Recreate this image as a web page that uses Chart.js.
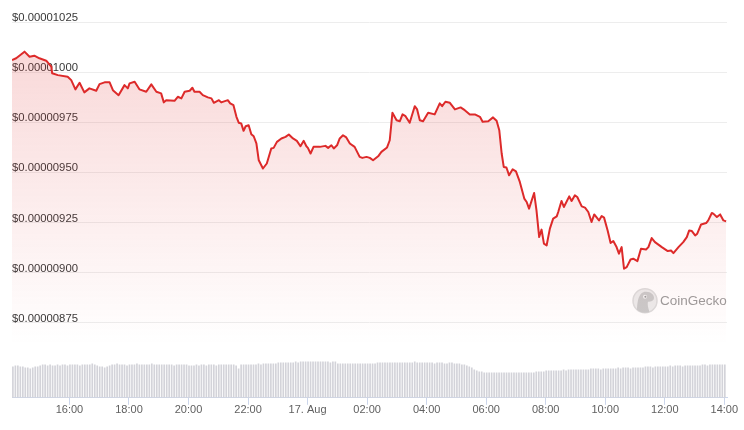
<!DOCTYPE html>
<html>
<head>
<meta charset="utf-8">
<script src="https://cdn.jsdelivr.net/npm/chart.js@4.4.1/dist/chart.umd.min.js"></script>
<style>
  html, body { margin: 0; padding: 0; background: #fff; }
  #wrap { width: 744px; height: 430px; }
</style>
</head>
<body>
<div id="wrap"><canvas id="priceChart" width="744" height="430"></canvas></div>
<script>
// time in hours counted from 16 Aug 00:00 (24 = 17 Aug 00:00)
const priceHours = [
  14.07, 14.21, 14.49, 14.66, 14.82, 14.99, 15.22, 15.39, 15.42, 15.61,
  15.94, 16.06, 16.20, 16.34, 16.50, 16.67, 16.90, 17.01, 17.18, 17.35,
  17.46, 17.65, 17.85, 17.96, 18.02, 18.19, 18.35, 18.58, 18.75, 18.92,
  19.08, 19.17, 19.25, 19.53, 19.64, 19.76, 19.87, 20.04, 20.13, 20.20,
  20.37, 20.48, 20.65, 20.77, 20.85, 21.02, 21.10, 21.32, 21.40, 21.51,
  21.61, 21.69, 21.77, 21.85, 21.92, 22.02, 22.11, 22.19, 22.28, 22.36,
  22.50, 22.63, 22.78, 22.86, 22.97, 23.12, 23.26, 23.37, 23.51, 23.64,
  23.76, 23.87, 23.96, 24.01, 24.10, 24.20, 24.41, 24.60, 24.69, 24.80,
  24.88, 24.99, 25.08, 25.19, 25.30, 25.42, 25.58, 25.75, 25.84, 25.98,
  26.09, 26.20, 26.37, 26.48, 26.67, 26.76, 26.85, 26.99, 27.10, 27.19,
  27.29, 27.43, 27.60, 27.68, 27.77, 27.88, 28.05, 28.27, 28.44, 28.52,
  28.63, 28.78, 28.95, 29.14, 29.28, 29.45, 29.62, 29.79, 29.88, 30.07,
  30.23, 30.35, 30.44, 30.52, 30.59, 30.68, 30.77, 30.89, 31.00, 31.13,
  31.28, 31.36, 31.44, 31.61, 31.69, 31.78, 31.86, 31.94, 32.03, 32.14,
  32.25, 32.37, 32.42, 32.53, 32.61, 32.79, 32.87, 32.98, 33.06, 33.21,
  33.32, 33.43, 33.54, 33.63, 33.79, 33.88, 33.96, 34.08, 34.18, 34.27,
  34.38, 34.46, 34.55, 34.63, 34.72, 34.85, 34.94, 35.08, 35.20, 35.37,
  35.45, 35.56, 35.67, 35.90, 36.10, 36.21, 36.29, 36.46, 36.62, 36.74,
  36.82, 36.91, 37.02, 37.09, 37.22, 37.39, 37.46, 37.58, 37.63, 37.75,
  37.86, 37.97, 38.06
];

// price in units of 1e-8 USD (1000 = $0.00001000)
const prices = [
  1006.0, 1006.9, 1010.2, 1007.7, 1008.2, 1006.9, 1005.7, 1002.7, 999.4, 998.5,
  997.7, 996.0, 991.4, 994.7, 989.9, 991.9, 990.7, 994.0, 994.9, 994.9,
  991.0, 988.5, 993.5, 991.9, 994.4, 995.2, 991.4, 990.2, 993.9, 990.2,
  989.4, 984.9, 986.0, 985.7, 987.7, 986.9, 990.2, 990.7, 992.2, 990.2,
  990.2, 988.5, 987.4, 986.9, 984.7, 986.0, 984.9, 986.0, 984.4, 983.5,
  977.7, 974.7, 974.4, 970.7, 973.0, 973.5, 969.0, 968.0, 964.4, 956.0,
  951.9, 954.4, 961.9, 962.2, 965.2, 966.9, 967.7, 968.9, 966.9, 965.7,
  963.0, 965.7, 963.0, 962.2, 959.4, 962.7, 962.7, 963.2, 962.2, 963.5,
  961.9, 963.5, 966.9, 968.5, 967.4, 964.4, 962.7, 957.7, 957.2, 957.7,
  957.2, 956.0, 958.0, 960.2, 962.4, 966.0, 979.7, 976.0, 975.5, 978.9,
  978.0, 974.7, 983.0, 981.4, 976.0, 975.5, 979.7, 978.9, 984.4, 983.0,
  985.2, 984.7, 981.4, 982.4, 981.0, 978.9, 978.9, 977.7, 975.2, 975.5,
  977.4, 975.7, 971.0, 959.4, 952.7, 952.4, 948.5, 951.5, 950.5, 945.2,
  936.9, 935.2, 931.9, 939.7, 931.0, 917.7, 921.4, 914.4, 913.5, 921.9,
  926.9, 928.0, 930.2, 935.7, 932.7, 938.0, 935.7, 938.5, 937.7, 933.0,
  932.4, 930.2, 925.2, 929.0, 926.0, 928.2, 927.4, 921.0, 914.7, 915.7,
  912.7, 909.4, 912.7, 901.9, 902.7, 906.5, 906.9, 905.7, 911.9, 911.5,
  912.7, 917.2, 915.2, 912.7, 910.7, 911.0, 909.7, 912.7, 915.2, 917.7,
  921.0, 920.7, 918.5, 919.4, 924.0, 924.7, 926.0, 929.7, 929.4, 927.7,
  929.0, 926.0, 925.5
];

// 5-minute volume bars, first one at 14:06 on 16 Aug (relative units)
const volStartHour = 14.1;
const volumes = [
  31, 32, 32, 31, 31, 30, 30, 29, 30, 31, 31, 32,
  33, 33, 32, 33, 32, 32, 33, 32, 33, 33, 32, 33,
  33, 33, 33, 32, 33, 33, 33, 33, 34, 33, 32, 31,
  31, 30, 31, 32, 33, 33, 34, 33, 33, 33, 32, 33,
  33, 33, 34, 33, 33, 33, 33, 33, 34, 33, 33, 33,
  33, 33, 33, 33, 33, 32, 33, 33, 33, 33, 33, 32,
  32, 32, 33, 32, 33, 33, 32, 33, 33, 33, 32, 33,
  33, 33, 33, 33, 33, 33, 32, 29, 33, 33, 33, 33,
  33, 33, 33, 34, 33, 34, 34, 34, 34, 34, 34, 35,
  35, 35, 35, 35, 35, 35, 36, 35, 36, 36, 36, 36,
  36, 36, 36, 36, 36, 36, 36, 36, 35, 36, 36, 34,
  34, 34, 34, 34, 34, 34, 34, 34, 34, 34, 34, 34,
  34, 34, 34, 35, 35, 35, 35, 35, 35, 35, 35, 35,
  35, 35, 35, 35, 35, 35, 36, 35, 35, 35, 35, 35,
  35, 35, 34, 35, 35, 35, 34, 34, 35, 35, 34, 34,
  34, 33, 33, 32, 31, 30, 28, 27, 26, 26, 25, 25,
  25, 25, 25, 25, 25, 25, 25, 25, 25, 25, 25, 25,
  25, 25, 25, 25, 25, 25, 25, 26, 26, 26, 26, 27,
  27, 27, 27, 27, 27, 27, 28, 27, 28, 28, 28, 28,
  28, 28, 28, 28, 28, 29, 29, 29, 29, 28, 29, 29,
  29, 29, 29, 29, 30, 29, 30, 30, 30, 29, 30, 30,
  30, 30, 30, 31, 31, 31, 30, 31, 31, 31, 31, 31,
  31, 32, 31, 32, 32, 32, 31, 32, 32, 32, 32, 32,
  32, 32, 33, 33, 32, 33, 33, 33, 33, 33, 33, 33
];

const priceTicks = [875, 900, 925, 950, 975, 1000, 1025];
const timeTicks = [16, 18, 20, 22, 24, 26, 28, 30, 32, 34, 36, 38];
const timeLabels = ['16:00', '18:00', '20:00', '22:00', '17. Aug', '02:00',
                    '04:00', '06:00', '08:00', '10:00', '12:00', '14:00'];

const FONT = "'Liberation Sans', Arial, sans-serif";

// CoinGecko watermark in the lower right of the plot
const watermark = {
  id: 'watermark',
  beforeDatasetsDraw(chart) {
    const c = chart.ctx;
    const cx = chart.chartArea.right - 82, cy = chart.chartArea.bottom - 97;
    c.save();
    c.beginPath();
    c.arc(cx, cy, 12, 0, Math.PI * 2);
    c.fillStyle = '#ececec';
    c.fill();
    c.lineWidth = 1.5;
    c.strokeStyle = '#dcdcdc';
    c.stroke();
    c.clip();
    // gecko head
    c.beginPath();
    c.moveTo(cx - 8, cy + 13);
    c.bezierCurveTo(cx - 8, cy + 2, cx - 7, cy - 9, cx + 1, cy - 9);
    c.bezierCurveTo(cx + 6, cy - 9, cx + 9, cy - 6, cx + 9, cy - 3);
    c.bezierCurveTo(cx + 9, cy, cx + 6, cy + 1, cx + 3, cy + 1);
    c.bezierCurveTo(cx + 2, cy + 5, cx + 4, cy + 9, cx + 5, cy + 13);
    c.closePath();
    c.fillStyle = '#cacaca';
    c.fill();
    c.beginPath();
    c.arc(cx, cy - 4, 2, 0, Math.PI * 2);
    c.fillStyle = '#f4f4f4';
    c.fill();
    c.beginPath();
    c.arc(cx + 0.4, cy - 4, 1, 0, Math.PI * 2);
    c.fillStyle = '#9a9a9a';
    c.fill();
    c.restore();

    c.save();
    c.font = '13.5px ' + FONT;
    c.fillStyle = '#9c9c9c';
    c.textBaseline = 'middle';
    c.textAlign = 'left';
    c.fillText('CoinGecko', cx + 15, cy);
    c.restore();
  }
};

const ctx = document.getElementById('priceChart').getContext('2d');
const priceChart = new Chart(ctx, {
  type: 'line',
  data: {
    datasets: [{
      type: 'line',
      label: 'Price',
      data: priceHours.map((h, i) => ({ x: h, y: prices[i] })),
      yAxisID: 'y',
      borderColor: '#dd2a2a',
      borderWidth: 2,
      borderJoinStyle: 'round',
      pointRadius: 0,
      tension: 0,
      fill: 'start',
      backgroundColor: function(context) {
        const area = context.chart.chartArea;
        if (!area) return 'rgba(222,43,43,0.1)';
        const g = context.chart.ctx.createLinearGradient(0, 40, 0, 345);
        g.addColorStop(0, 'rgba(222,43,43,0.19)');
        g.addColorStop(1, 'rgba(222,43,43,0)');
        return g;
      },
      order: 1
    }, {
      type: 'bar',
      label: 'Volume',
      data: volumes.map((v, i) => ({ x: volStartHour + i / 12, y: v })),
      yAxisID: 'vol',
      backgroundColor: '#d3d3d9',
      barThickness: 1,
      grouped: false,
      order: 2
    }]
  },
  options: {
    responsive: false,
    devicePixelRatio: 1,
    animation: false,
    layout: { padding: { left: 12, right: 17, top: 22, bottom: 14 } },
    plugins: {
      legend: { display: false },
      tooltip: { enabled: false }
    },
    events: [],
    scales: {
      x: {
        type: 'linear',
        offset: false,
        min: 14.07,
        max: 38.09,
        afterBuildTicks: axis => { axis.ticks = timeTicks.map(v => ({ value: v })); },
        ticks: {
          autoSkip: false,
          maxRotation: 0,
          padding: -1,
          color: '#606060',
          font: { family: FONT, size: 11 },
          callback: (value, index) => timeLabels[index]
        },
        grid: { offset: false, drawOnChartArea: false, drawTicks: true, tickLength: 7, color: '#ccd6eb' },
        border: { display: true, color: '#ccd6eb', width: 1 }
      },
      y: {
        position: 'left',
        min: 837.5,
        max: 1025,
        afterBuildTicks: axis => { axis.ticks = priceTicks.map(v => ({ value: v })); },
        ticks: {
          mirror: true,
          padding: 0,
          labelOffset: -4,
          color: '#383838',
          font: { family: FONT, size: 11.3 },
          callback: value => '$' + (value * 1e-8).toFixed(8)
        },
        grid: { color: '#ededed', drawTicks: false },
        border: { display: false }
      },
      vol: {
        display: false,
        min: 0,
        max: 375
      }
    }
  },
  plugins: [watermark]
});
</script>
</body>
</html>
